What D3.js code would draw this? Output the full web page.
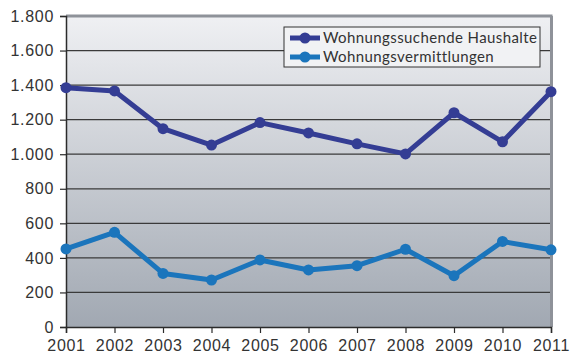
<!DOCTYPE html>
<html>
<head>
<meta charset="utf-8">
<script src="https://cdn.jsdelivr.net/npm/d3@7"></script>
<style>
  html, body { margin: 0; padding: 0; background: #ffffff; }
  svg { display: block; font-family: Lato, "Open Sans", sans-serif; }
</style>
</head>
<body>
<svg id="chart" width="586" height="356"></svg>
<script>
const years = [2001, 2002, 2003, 2004, 2005, 2006, 2007, 2008, 2009, 2010, 2011];
const haushalte = [1385, 1366, 1148, 1053, 1183, 1123, 1060, 1002, 1240, 1072, 1362];
const vermittlungen = [452, 548, 310, 272, 388, 330, 355, 450, 297, 495, 447];
const yTicks = [0, 200, 400, 600, 800, 1000, 1200, 1400, 1600, 1800];
const seriesNames = ["Wohnungssuchende Haushalte", "Wohnungsvermittlungen"];
const seriesColors = ["#343d94", "#1b75bc"];

const svg = d3.select("#chart");
const margin = { left: 66, right: 35, top: 16, bottom: 29 };
const W = 586, H = 356;
const x = d3.scalePoint().domain(years).range([margin.left, W - margin.right]);
const y = d3.scaleLinear().domain([0, 1800]).range([H - margin.bottom, margin.top]);

const defs = svg.append("defs");
const grad = defs.append("linearGradient").attr("id", "bg").attr("x1", 0).attr("y1", 0).attr("x2", 0).attr("y2", 1);
grad.append("stop").attr("offset", "0%").attr("stop-color", "#eff0f3");
grad.append("stop").attr("offset", "100%").attr("stop-color", "#a1a8b2");

const x0 = margin.left, x1 = W - margin.right, yTop = margin.top, yBot = H - margin.bottom;

// plot background
svg.append("rect").attr("x", x0).attr("y", yTop).attr("width", x1 - x0).attr("height", yBot - yTop)
  .attr("fill", "url(#bg)");

// horizontal gridlines
svg.append("g").selectAll("line").data(yTicks.filter(d => d > 0 && d < 1800)).join("line")
  .attr("x1", x0).attr("x2", x1).attr("y1", d => y(d)).attr("y2", d => y(d))
  .attr("stroke", "#3a3a3a").attr("stroke-width", 1.2);

// frame top and right
svg.append("line").attr("x1", x0).attr("x2", x1 + 1.5).attr("y1", yTop).attr("y2", yTop)
  .attr("stroke", "#8e9299").attr("stroke-width", 3);
svg.append("line").attr("x1", x1 + 0.5).attr("x2", x1 + 0.5).attr("y1", yTop).attr("y2", yBot)
  .attr("stroke", "#8e9299").attr("stroke-width", 3);

// axes
const yAxis = d3.axisLeft(y).tickValues(yTicks).tickSize(6).tickPadding(6)
  .tickFormat(d => d3.format(",")(d).replace(/,/g, "."));
const gy = svg.append("g").attr("transform", `translate(${x0},0)`).call(yAxis);
const xAxis = d3.axisBottom(x).tickSize(6).tickPadding(3).tickFormat(d => String(d));
const gx = svg.append("g").attr("transform", `translate(0,${yBot})`).call(xAxis);
[gy, gx].forEach(g => {
  g.select(".domain").attr("stroke", "#2b2b2b").attr("stroke-width", 1.5);
  g.selectAll(".tick line").attr("stroke", "#2b2b2b").attr("stroke-width", 1.2);
  g.selectAll(".tick text").attr("fill", "#333333").attr("font-size", 16)
    .attr("letter-spacing", "0.7px");
});
gx.selectAll(".tick text").attr("dy", "0.95em");

// series lines
const line = d3.line().x((d, i) => x(years[i])).y(d => y(d));
[haushalte, vermittlungen].forEach((vals, k) => {
  svg.append("path").datum(vals).attr("d", line).attr("fill", "none")
    .attr("stroke", seriesColors[k]).attr("stroke-width", 5).attr("stroke-linejoin", "round");
  svg.append("g").selectAll("circle").data(vals).join("circle")
    .attr("cx", (d, i) => x(years[i])).attr("cy", d => y(d)).attr("r", 5.5)
    .attr("fill", seriesColors[k]);
});

// legend
const lg = svg.append("g").attr("transform", "translate(284,27)");
lg.append("rect").attr("x", 0).attr("y", 0).attr("width", 256).attr("height", 40)
  .attr("fill", "#f1f2f4").attr("stroke", "#333333").attr("stroke-width", 1);
seriesNames.forEach((name, k) => {
  const cy = 11 + k * 19;
  lg.append("line").attr("x1", 6).attr("x2", 36).attr("y1", cy).attr("y2", cy)
    .attr("stroke", seriesColors[k]).attr("stroke-width", 5);
  lg.append("circle").attr("cx", 21).attr("cy", cy).attr("r", 5.5).attr("fill", seriesColors[k]);
  lg.append("text").attr("x", 39).attr("y", cy).attr("dy", "0.35em")
    .attr("font-size", 15).attr("letter-spacing", "0.4px").attr("fill", "#333333").text(name);
});
</script>
</body>
</html>
